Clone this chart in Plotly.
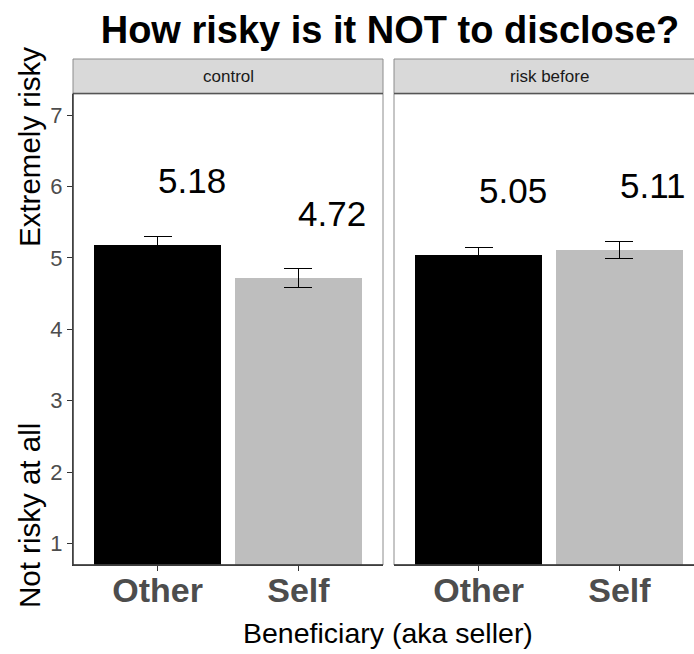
import plotly.graph_objects as go

# ---- data ----
categories = ["Other", "Self"]
panels = ["control", "risk before"]
means_control = [5.18, 4.72]
means_risk = [5.05, 5.11]
se_control = [0.115, 0.13]
se_risk = [0.10, 0.12]
labels_control = ["5.18", "4.72"]
labels_risk = ["5.05", "5.11"]
bar_colors = ["#000000", "#BEBEBE"]
y_ticks = [1, 2, 3, 4, 5, 6, 7]

W, H = 694, 654
FONT = "Liberation Sans, Arial, Helvetica, sans-serif"

def px_x(p):
    return p / W

def px_y(p):
    return 1 - p / H

left_x0, left_x1 = 73, 383
right_x0, right_x1 = 394, 704  # right panel extends past the picture edge
panel_top, panel_bot = 93.6, 565
strip_top = 59
unit = (left_x1 - left_x0) / 2.2

fig = go.Figure()

series = [(means_control, se_control, labels_control, "x", "y"),
          (means_risk, se_risk, labels_risk, "x2", "y2")]

for means, ses, labs, xa, ya in series:
    fig.add_trace(go.Bar(
        x=categories, y=means, width=0.9,
        marker=dict(color=bar_colors, line=dict(width=0)),
        error_y=dict(type="data", array=ses, visible=True,
                     color="#000000", thickness=1.2, width=14),
        xaxis=xa, yaxis=ya, showlegend=False, hoverinfo="skip",
    ))
    for c, m, t in zip(categories, means, labs):
        fig.add_annotation(x=c, y=m + 0.9, xref=xa, yref=ya, text=t,
                           showarrow=False, xshift=34, yshift=0,
                           font=dict(size=35, color="#000000", family=FONT),
                           xanchor="center", yanchor="middle")

yrange = [0.7, 7.3]
common_x = dict(type="category", showline=True, linecolor="#333333", linewidth=1.3,
                ticks="outside", ticklen=5, tickcolor="#333333", tickwidth=1.2,
                tickfont=dict(size=34, color="#4D4D4D", family=FONT, weight="bold"),
                ticklabelstandoff=-10,
                showgrid=False, zeroline=False, fixedrange=True)
fig.update_layout(
    width=W, height=H,
    margin=dict(l=0, r=0, t=0, b=0),
    paper_bgcolor="white", plot_bgcolor="white",
    bargap=0,
    xaxis=dict(domain=[px_x(left_x0), px_x(left_x1)], range=[-0.6, 1.6],
               anchor="y", **common_x),
    xaxis2=dict(domain=[px_x(right_x0), 1.0],
                range=[-0.6, -0.6 + (W - right_x0) / unit],
                anchor="y2", **common_x),
    yaxis=dict(domain=[px_y(panel_bot), px_y(panel_top)], range=yrange,
               tickvals=y_ticks, showline=True, linecolor="#333333", linewidth=1.3,
               ticks="outside", ticklen=5, tickcolor="#333333", tickwidth=1.2,
               tickfont=dict(size=22, color="#4D4D4D", family=FONT),
               showgrid=False, zeroline=False, anchor="x", fixedrange=True),
    yaxis2=dict(domain=[px_y(panel_bot), px_y(panel_top)], range=yrange,
                showticklabels=False, ticks="", showline=False,
                showgrid=False, zeroline=False, anchor="x2", fixedrange=True),
    title=dict(text="<b>How risky is it NOT to disclose?</b>",
               x=390 / W, xanchor="center", y=1 - 30 / H, yanchor="middle",
               font=dict(size=38, color="#000000", family=FONT)),
)

shapes = []
for x0, x1 in [(left_x0, left_x1), (right_x0, right_x1)]:
    shapes.append(dict(type="rect", xref="paper", yref="paper",
                       x0=px_x(x0), x1=px_x(x1), y0=px_y(panel_bot), y1=px_y(panel_top),
                       line=dict(color="#8C8C8C", width=1), fillcolor="rgba(0,0,0,0)",
                       layer="above"))
    shapes.append(dict(type="rect", xref="paper", yref="paper",
                       x0=px_x(x0), x1=px_x(x1), y0=px_y(panel_top), y1=px_y(strip_top),
                       line=dict(color="#8C8C8C", width=1), fillcolor="#D9D9D9",
                       layer="above"))
    shapes.append(dict(type="line", xref="paper", yref="paper",
                       x0=px_x(x0), x1=px_x(x1), y0=px_y(panel_top), y1=px_y(panel_top),
                       line=dict(color="#555555", width=1.5), layer="above"))
shapes.append(dict(type="line", xref="paper", yref="paper",
                   x0=px_x(left_x0), x1=px_x(left_x0), y0=px_y(panel_bot), y1=px_y(panel_top),
                   line=dict(color="#333333", width=1.3), layer="above"))
for x0, x1 in [(left_x0, left_x1), (right_x0, right_x1)]:
    shapes.append(dict(type="line", xref="paper", yref="paper",
                       x0=px_x(x0), x1=px_x(x1), y0=px_y(panel_bot), y1=px_y(panel_bot),
                       line=dict(color="#333333", width=1.3), layer="above"))
fig.update_layout(shapes=shapes)

for name, x0, x1 in [(panels[0], left_x0, left_x1), (panels[1], right_x0, right_x1)]:
    fig.add_annotation(x=px_x((x0 + x1) / 2), y=px_y((strip_top + panel_top) / 2),
                       xref="paper", yref="paper", text=name, showarrow=False,
                       font=dict(size=17, color="#1A1A1A", family=FONT),
                       xanchor="center", yanchor="middle")

fig.add_annotation(x=px_x(29), y=px_y(147), xref="paper", yref="paper",
                   text="Extremely risky", textangle=-90, showarrow=False,
                   font=dict(size=29.5, color="#000000", family=FONT),
                   xanchor="center", yanchor="middle")
fig.add_annotation(x=px_x(29), y=px_y(516), xref="paper", yref="paper",
                   text="Not risky at all", textangle=-90, showarrow=False,
                   font=dict(size=29.5, color="#000000", family=FONT),
                   xanchor="center", yanchor="middle")
fig.add_annotation(x=px_x(388), y=px_y(633), xref="paper", yref="paper",
                   text="Beneficiary (aka seller)", showarrow=False,
                   font=dict(size=28.5, color="#000000", family=FONT),
                   xanchor="center", yanchor="middle")

fig.write_html("out.html", config={"displayModeBar": False},
               post_script="document.body.style.margin='0';document.body.style.overflow='hidden';")
